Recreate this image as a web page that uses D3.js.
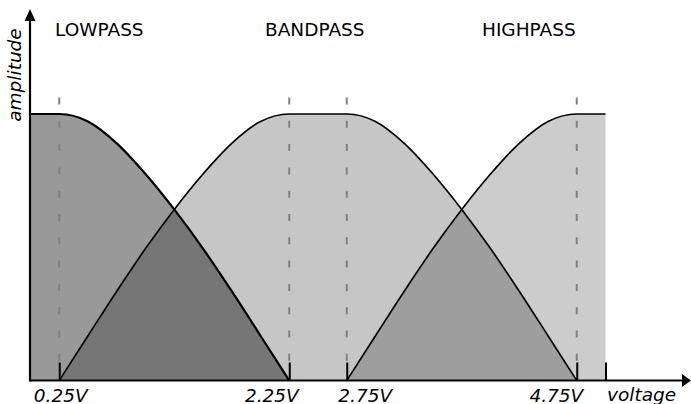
<!doctype html>
<html>
<head>
  <style type="text/css">
    body { margin: 0; background: #fff; }
    text { font-family: "DejaVu Sans", sans-serif; fill: #000; }
    .title { font-size: 18.5px; }
    .lbl { font-size: 18.5px; font-style: italic; }
  </style>
  <title>Filter bands</title>
</head>
<body>
<svg class="chart"></svg>

<script type="text/javascript" src="https://cdnjs.cloudflare.com/ajax/libs/d3/7.8.5/d3.min.js"></script>
<script type="text/javascript">

var width = 691,
    height = 404;

// tick positions (volts) and their labels
var voltTicks = [0.25, 2.25, 2.75, 4.75, 5.0];
var tickLabels = ["0.25V", "2.25V", "2.75V", "4.75V", ""];
var guideTicks = [0.25, 2.25, 2.75, 4.75];
var filterNames = ["LOWPASS", "BANDPASS", "HIGHPASS"];

// response curves (volts, relative amplitude)
var lowV  = [0, 0.25, 0.5, 0.75, 1.0, 1.25, 1.5, 1.75, 2.0, 2.25];
var lowA  = [1, 1, 0.972, 0.89, 0.775, 0.642, 0.495, 0.335, 0.168, 0];

var bandV = [0.25, 0.5, 0.75, 1.0, 1.25, 1.5, 1.75, 2.0, 2.25,
             2.75, 3.0, 3.25, 3.5, 3.75, 4.0, 4.25, 4.5, 4.75];
var bandA = [0, 0.168, 0.335, 0.495, 0.642, 0.775, 0.89, 0.972, 1,
             1, 0.972, 0.89, 0.775, 0.642, 0.495, 0.335, 0.168, 0];

var highV = [2.75, 3.0, 3.25, 3.5, 3.75, 4.0, 4.25, 4.5, 4.75, 5.0];
var highA = [0, 0.168, 0.335, 0.495, 0.642, 0.775, 0.89, 0.972, 1, 1];

var svg = d3.select(".chart")
  .attr("width", width)
  .attr("height", height);

var x = d3.scaleLinear().domain([0, 5]).range([30.5, 605.5]);
var y = d3.scaleLinear().domain([0, 1]).range([380.5, 114]);

function pts(vs, as) {
  return vs.map(function(v, i) { return [v, as[i]]; });
}

var area = d3.area()
  .x(function(d) { return x(d[0]); })
  .y0(y(0))
  .y1(function(d) { return y(d[1]); })
  .curve(d3.curveMonotoneX);

var line = d3.line()
  .x(function(d) { return x(d[0]); })
  .y(function(d) { return y(d[1]); })
  .curve(d3.curveMonotoneX);

var series = [
  { pts: pts(lowV, lowA),   fill: "rgba(0,0,0,0.4)",   sw: 2.2 },
  { pts: pts(bandV, bandA), fill: "rgba(0,0,0,0.224)", sw: 1.7 },
  { pts: pts(highV, highA), fill: "rgba(0,0,0,0.2)",   sw: 1.7 }
];

svg.append("g").selectAll("path")
  .data(series)
  .enter().append("path")
    .attr("d", function(d) { return area(d.pts); })
    .attr("fill", function(d) { return d.fill; });

// dashed guides
svg.append("g").selectAll("line")
  .data(guideTicks)
  .enter().append("line")
    .attr("x1", function(d) { return x(d); })
    .attr("x2", function(d) { return x(d); })
    .attr("y1", 97.5)
    .attr("y2", 361)
    .attr("stroke", "#808080")
    .attr("stroke-width", 2)
    .attr("stroke-dasharray", "7,16.3");

svg.append("g").selectAll("path")
  .data(series)
  .enter().append("path")
    .attr("d", function(d) { return line(d.pts); })
    .attr("fill", "none")
    .attr("stroke", "#000")
    .attr("stroke-width", function(d) { return d.sw; });

// x ticks, pointing up
var xAxis = svg.append("g")
  .attr("transform", "translate(0," + y(0) + ")")
  .call(d3.axisBottom(x)
    .tickValues(voltTicks)
    .tickSize(-18)
    .tickFormat(function(d, i) { return tickLabels[i]; }));

xAxis.select(".domain").remove();
xAxis.selectAll(".tick line").attr("stroke", "#000").attr("stroke-width", 2);

var anchors = ["middle", "end", "start", "end", "middle"];
var shifts = [1, 9, -9, 6, 0];
xAxis.selectAll(".tick text")
  .attr("class", "lbl")
  .attr("fill", "#000")
  .attr("y", 21)
  .attr("dy", null)
  .attr("dx", function(d, i) { return shifts[i]; })
  .attr("text-anchor", function(d, i) { return anchors[i]; });

// axes with arrows
var x0 = 30, yb = 380.5;
svg.append("line")
  .attr("x1", x0).attr("x2", 683).attr("y1", yb).attr("y2", yb)
  .attr("stroke", "#000").attr("stroke-width", 2.2);
svg.append("line")
  .attr("x1", x0).attr("x2", x0).attr("y1", yb + 1).attr("y2", 20)
  .attr("stroke", "#000").attr("stroke-width", 2.2);
svg.append("path")
  .attr("d", "M691," + yb + "L682," + (yb - 6.5) + "L682," + (yb + 6.5) + "Z")
  .attr("fill", "#000");
svg.append("path")
  .attr("d", "M" + x0 + ",9L" + (x0 - 5.5) + ",21L" + (x0 + 5.5) + ",21Z")
  .attr("fill", "#000");

svg.append("text")
  .attr("class", "lbl")
  .attr("x", 607)
  .attr("y", 401)
  .text("voltage");

svg.append("text")
  .attr("class", "lbl")
  .attr("transform", "translate(21,75) rotate(-90)")
  .attr("text-anchor", "middle")
  .text("amplitude");

var titleX = [55, 265, 482];
svg.append("g").selectAll("text")
  .data(filterNames)
  .enter().append("text")
    .attr("class", "title")
    .attr("x", function(d, i) { return titleX[i]; })
    .attr("y", 36)
    .text(function(d) { return d; });

</script>
</body>
</html>
